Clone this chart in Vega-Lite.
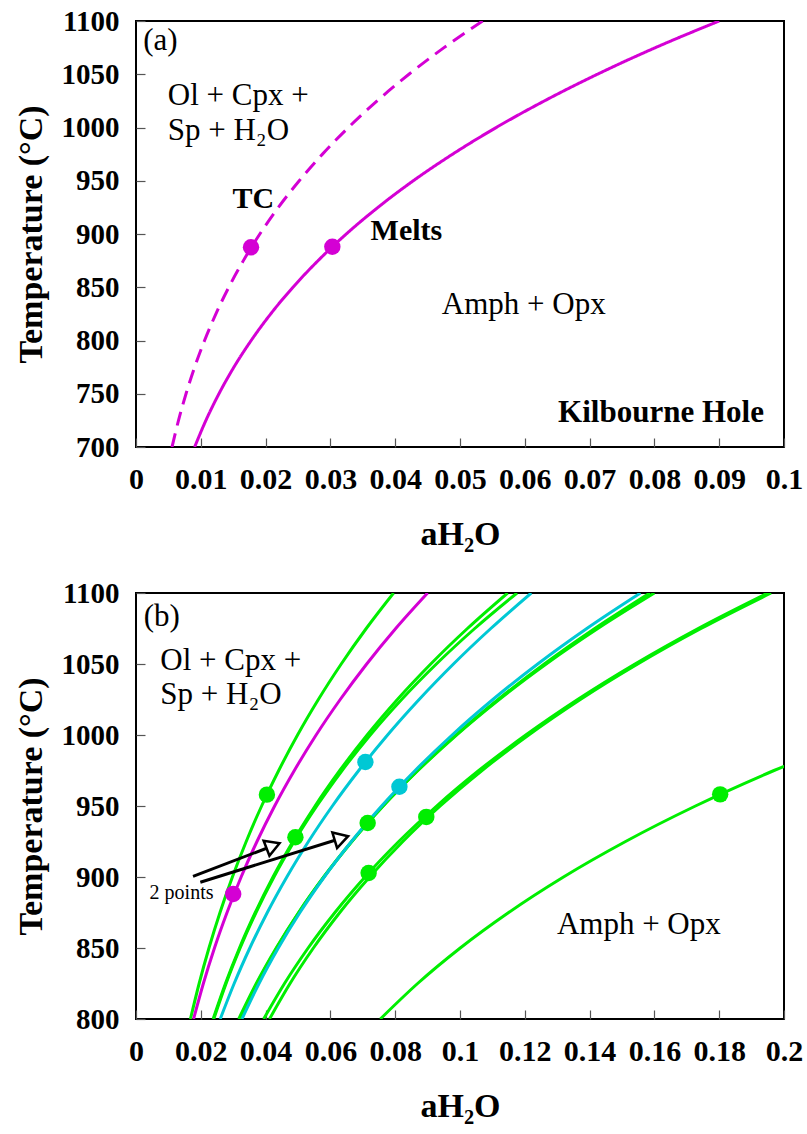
{
  "$schema": "https://vega.github.io/schema/vega-lite/v6.json",
  "background": "white",
  "padding": {"left": 13, "top": 6, "right": 5, "bottom": 5},
  "spacing": 26,
  "config": {
    "font": "Liberation Serif",
    "view": {"stroke": "#000000", "strokeWidth": 2},
    "axis": {
      "domain": false, "grid": false,
      "tickSize": -9, "tickColor": "#555555", "tickWidth": 1.2,
      "labelFont": "Liberation Serif", "labelFontWeight": "bold", "labelFontSize": 29, "labelColor": "#000000",
      "titleFont": "Liberation Serif", "titleFontWeight": "bold", "titleFontSize": 34, "titleColor": "#000000",
      "labelFlush": false, "labelOverlap": false
    },
    "axisX": {"labelPadding": 26, "titlePadding": 23, "labelFontSize": 30},
    "axisY": {"labelPadding": 26, "titlePadding": 13}
  },
  "resolve": {"scale": {"x": "independent", "y": "independent", "color": "independent", "strokeDash": "independent"}},
  "datasets": {
    "a_curves": [
      {"model": "TC", "aH2O": 0.00556, "T": 700},
      {"model": "TC", "aH2O": 0.00656, "T": 725},
      {"model": "TC", "aH2O": 0.00772, "T": 750},
      {"model": "TC", "aH2O": 0.00905, "T": 775},
      {"model": "TC", "aH2O": 0.01058, "T": 800},
      {"model": "TC", "aH2O": 0.01233, "T": 825},
      {"model": "TC", "aH2O": 0.01432, "T": 850},
      {"model": "TC", "aH2O": 0.01657, "T": 875},
      {"model": "TC", "aH2O": 0.01911, "T": 900},
      {"model": "TC", "aH2O": 0.02197, "T": 925},
      {"model": "TC", "aH2O": 0.02519, "T": 950},
      {"model": "TC", "aH2O": 0.02878, "T": 975},
      {"model": "TC", "aH2O": 0.03277, "T": 1000},
      {"model": "TC", "aH2O": 0.03721, "T": 1025},
      {"model": "TC", "aH2O": 0.04212, "T": 1050},
      {"model": "TC", "aH2O": 0.04753, "T": 1075},
      {"model": "TC", "aH2O": 0.0535, "T": 1100},
      {"model": "Melts", "aH2O": 0.00905, "T": 700},
      {"model": "Melts", "aH2O": 0.01079, "T": 725},
      {"model": "Melts", "aH2O": 0.0128, "T": 750},
      {"model": "Melts", "aH2O": 0.01511, "T": 775},
      {"model": "Melts", "aH2O": 0.01777, "T": 800},
      {"model": "Melts", "aH2O": 0.02079, "T": 825},
      {"model": "Melts", "aH2O": 0.02422, "T": 850},
      {"model": "Melts", "aH2O": 0.0281, "T": 875},
      {"model": "Melts", "aH2O": 0.03245, "T": 900},
      {"model": "Melts", "aH2O": 0.03734, "T": 925},
      {"model": "Melts", "aH2O": 0.04279, "T": 950},
      {"model": "Melts", "aH2O": 0.04887, "T": 975},
      {"model": "Melts", "aH2O": 0.05559, "T": 1000},
      {"model": "Melts", "aH2O": 0.06303, "T": 1025},
      {"model": "Melts", "aH2O": 0.0712, "T": 1050},
      {"model": "Melts", "aH2O": 0.08016, "T": 1075},
      {"model": "Melts", "aH2O": 0.09, "T": 1100}
    ],
    "a_points": [
      {"model": "TC", "aH2O": 0.01775, "T": 887.5},
      {"model": "Melts", "aH2O": 0.0303, "T": 888}
    ],
    "a_labels_plain": [
      {"label": "(a)", "aH2O": 0.0011, "T": 1073},
      {"label": "Ol + Cpx +", "aH2O": 0.0049, "T": 1021},
      {"label": "Sp + H₂O", "aH2O": 0.0049, "T": 988},
      {"label": "Amph + Opx", "aH2O": 0.0472, "T": 825}
    ],
    "a_labels_bold": [
      {"label": "TC", "aH2O": 0.0149, "T": 924},
      {"label": "Melts", "aH2O": 0.0362, "T": 894.5}
    ],
    "a_label_site": [
      {"label": "Kilbourne Hole", "aH2O": 0.0969, "T": 723.5}
    ],
    "b_curves": [
      {"curve": "A", "set": "Set 1", "aH2O": 0.0168, "T": 800},
      {"curve": "A", "set": "Set 1", "aH2O": 0.01949, "T": 825},
      {"curve": "A", "set": "Set 1", "aH2O": 0.02252, "T": 850},
      {"curve": "A", "set": "Set 1", "aH2O": 0.02593, "T": 875},
      {"curve": "A", "set": "Set 1", "aH2O": 0.02975, "T": 900},
      {"curve": "A", "set": "Set 1", "aH2O": 0.03402, "T": 925},
      {"curve": "A", "set": "Set 1", "aH2O": 0.03877, "T": 950},
      {"curve": "A", "set": "Set 1", "aH2O": 0.04405, "T": 975},
      {"curve": "A", "set": "Set 1", "aH2O": 0.04986, "T": 1000},
      {"curve": "A", "set": "Set 1", "aH2O": 0.05628, "T": 1025},
      {"curve": "A", "set": "Set 1", "aH2O": 0.06334, "T": 1050},
      {"curve": "A", "set": "Set 1", "aH2O": 0.07106, "T": 1075},
      {"curve": "A", "set": "Set 1", "aH2O": 0.0795, "T": 1100},
      {"curve": "B1", "set": "Set 1", "aH2O": 0.0238, "T": 800},
      {"curve": "B1", "set": "Set 1", "aH2O": 0.02761, "T": 825},
      {"curve": "B1", "set": "Set 1", "aH2O": 0.03193, "T": 850},
      {"curve": "B1", "set": "Set 1", "aH2O": 0.03681, "T": 875},
      {"curve": "B1", "set": "Set 1", "aH2O": 0.04228, "T": 900},
      {"curve": "B1", "set": "Set 1", "aH2O": 0.04842, "T": 925},
      {"curve": "B1", "set": "Set 1", "aH2O": 0.05527, "T": 950},
      {"curve": "B1", "set": "Set 1", "aH2O": 0.06289, "T": 975},
      {"curve": "B1", "set": "Set 1", "aH2O": 0.07134, "T": 1000},
      {"curve": "B1", "set": "Set 1", "aH2O": 0.08067, "T": 1025},
      {"curve": "B1", "set": "Set 1", "aH2O": 0.09097, "T": 1050},
      {"curve": "B1", "set": "Set 1", "aH2O": 0.10229, "T": 1075},
      {"curve": "B1", "set": "Set 1", "aH2O": 0.1147, "T": 1100},
      {"curve": "B2", "set": "Set 1", "aH2O": 0.024, "T": 800},
      {"curve": "B2", "set": "Set 1", "aH2O": 0.02781, "T": 825},
      {"curve": "B2", "set": "Set 1", "aH2O": 0.03214, "T": 850},
      {"curve": "B2", "set": "Set 1", "aH2O": 0.03704, "T": 875},
      {"curve": "B2", "set": "Set 1", "aH2O": 0.04257, "T": 900},
      {"curve": "B2", "set": "Set 1", "aH2O": 0.0488, "T": 925},
      {"curve": "B2", "set": "Set 1", "aH2O": 0.0558, "T": 950},
      {"curve": "B2", "set": "Set 1", "aH2O": 0.06361, "T": 975},
      {"curve": "B2", "set": "Set 1", "aH2O": 0.07231, "T": 1000},
      {"curve": "B2", "set": "Set 1", "aH2O": 0.08198, "T": 1025},
      {"curve": "B2", "set": "Set 1", "aH2O": 0.09271, "T": 1050},
      {"curve": "B2", "set": "Set 1", "aH2O": 0.10455, "T": 1075},
      {"curve": "B2", "set": "Set 1", "aH2O": 0.1176, "T": 1100},
      {"curve": "D1", "set": "Set 1", "aH2O": 0.0317, "T": 800},
      {"curve": "D1", "set": "Set 1", "aH2O": 0.03712, "T": 825},
      {"curve": "D1", "set": "Set 1", "aH2O": 0.04327, "T": 850},
      {"curve": "D1", "set": "Set 1", "aH2O": 0.05018, "T": 875},
      {"curve": "D1", "set": "Set 1", "aH2O": 0.05794, "T": 900},
      {"curve": "D1", "set": "Set 1", "aH2O": 0.06661, "T": 925},
      {"curve": "D1", "set": "Set 1", "aH2O": 0.07626, "T": 950},
      {"curve": "D1", "set": "Set 1", "aH2O": 0.08696, "T": 975},
      {"curve": "D1", "set": "Set 1", "aH2O": 0.09876, "T": 1000},
      {"curve": "D1", "set": "Set 1", "aH2O": 0.11176, "T": 1025},
      {"curve": "D1", "set": "Set 1", "aH2O": 0.12601, "T": 1050},
      {"curve": "D1", "set": "Set 1", "aH2O": 0.1416, "T": 1075},
      {"curve": "D1", "set": "Set 1", "aH2O": 0.1586, "T": 1100},
      {"curve": "D2", "set": "Set 1", "aH2O": 0.032, "T": 800},
      {"curve": "D2", "set": "Set 1", "aH2O": 0.03734, "T": 825},
      {"curve": "D2", "set": "Set 1", "aH2O": 0.04341, "T": 850},
      {"curve": "D2", "set": "Set 1", "aH2O": 0.05026, "T": 875},
      {"curve": "D2", "set": "Set 1", "aH2O": 0.05797, "T": 900},
      {"curve": "D2", "set": "Set 1", "aH2O": 0.06661, "T": 925},
      {"curve": "D2", "set": "Set 1", "aH2O": 0.07627, "T": 950},
      {"curve": "D2", "set": "Set 1", "aH2O": 0.08702, "T": 975},
      {"curve": "D2", "set": "Set 1", "aH2O": 0.09892, "T": 1000},
      {"curve": "D2", "set": "Set 1", "aH2O": 0.11209, "T": 1025},
      {"curve": "D2", "set": "Set 1", "aH2O": 0.1266, "T": 1050},
      {"curve": "D2", "set": "Set 1", "aH2O": 0.14253, "T": 1075},
      {"curve": "D2", "set": "Set 1", "aH2O": 0.16, "T": 1100},
      {"curve": "E1", "set": "Set 1", "aH2O": 0.0394, "T": 800},
      {"curve": "E1", "set": "Set 1", "aH2O": 0.04583, "T": 825},
      {"curve": "E1", "set": "Set 1", "aH2O": 0.05313, "T": 850},
      {"curve": "E1", "set": "Set 1", "aH2O": 0.0614, "T": 875},
      {"curve": "E1", "set": "Set 1", "aH2O": 0.07068, "T": 900},
      {"curve": "E1", "set": "Set 1", "aH2O": 0.0811, "T": 925},
      {"curve": "E1", "set": "Set 1", "aH2O": 0.0928, "T": 950},
      {"curve": "E1", "set": "Set 1", "aH2O": 0.1058, "T": 975},
      {"curve": "E1", "set": "Set 1", "aH2O": 0.1203, "T": 1000},
      {"curve": "E1", "set": "Set 1", "aH2O": 0.1363, "T": 1025},
      {"curve": "E1", "set": "Set 1", "aH2O": 0.154, "T": 1050},
      {"curve": "E1", "set": "Set 1", "aH2O": 0.1735, "T": 1075},
      {"curve": "E1", "set": "Set 1", "aH2O": 0.195, "T": 1100},
      {"curve": "E2", "set": "Set 1", "aH2O": 0.0412, "T": 800},
      {"curve": "E2", "set": "Set 1", "aH2O": 0.04754, "T": 825},
      {"curve": "E2", "set": "Set 1", "aH2O": 0.05475, "T": 850},
      {"curve": "E2", "set": "Set 1", "aH2O": 0.0629, "T": 875},
      {"curve": "E2", "set": "Set 1", "aH2O": 0.0721, "T": 900},
      {"curve": "E2", "set": "Set 1", "aH2O": 0.08236, "T": 925},
      {"curve": "E2", "set": "Set 1", "aH2O": 0.09389, "T": 950},
      {"curve": "E2", "set": "Set 1", "aH2O": 0.1068, "T": 975},
      {"curve": "E2", "set": "Set 1", "aH2O": 0.1212, "T": 1000},
      {"curve": "E2", "set": "Set 1", "aH2O": 0.13714, "T": 1025},
      {"curve": "E2", "set": "Set 1", "aH2O": 0.15485, "T": 1050},
      {"curve": "E2", "set": "Set 1", "aH2O": 0.17439, "T": 1075},
      {"curve": "E2", "set": "Set 1", "aH2O": 0.196, "T": 1100},
      {"curve": "F", "set": "Set 1", "aH2O": 0.0754, "T": 800},
      {"curve": "F", "set": "Set 1", "aH2O": 0.08692, "T": 825},
      {"curve": "F", "set": "Set 1", "aH2O": 0.10007, "T": 850},
      {"curve": "F", "set": "Set 1", "aH2O": 0.11502, "T": 875},
      {"curve": "F", "set": "Set 1", "aH2O": 0.13194, "T": 900},
      {"curve": "F", "set": "Set 1", "aH2O": 0.1511, "T": 925},
      {"curve": "F", "set": "Set 1", "aH2O": 0.17267, "T": 950},
      {"curve": "F", "set": "Set 1", "aH2O": 0.19691, "T": 975},
      {"curve": "F", "set": "Set 1", "aH2O": 0.22403, "T": 1000},
      {"curve": "C1", "set": "Set 2", "aH2O": 0.026, "T": 800},
      {"curve": "C1", "set": "Set 2", "aH2O": 0.0303, "T": 825},
      {"curve": "C1", "set": "Set 2", "aH2O": 0.03513, "T": 850},
      {"curve": "C1", "set": "Set 2", "aH2O": 0.04053, "T": 875},
      {"curve": "C1", "set": "Set 2", "aH2O": 0.04655, "T": 900},
      {"curve": "C1", "set": "Set 2", "aH2O": 0.05323, "T": 925},
      {"curve": "C1", "set": "Set 2", "aH2O": 0.06061, "T": 950},
      {"curve": "C1", "set": "Set 2", "aH2O": 0.06874, "T": 975},
      {"curve": "C1", "set": "Set 2", "aH2O": 0.07764, "T": 1000},
      {"curve": "C1", "set": "Set 2", "aH2O": 0.08738, "T": 1025},
      {"curve": "C1", "set": "Set 2", "aH2O": 0.09798, "T": 1050},
      {"curve": "C1", "set": "Set 2", "aH2O": 0.10951, "T": 1075},
      {"curve": "C1", "set": "Set 2", "aH2O": 0.122, "T": 1100},
      {"curve": "C2", "set": "Set 2", "aH2O": 0.0327, "T": 800},
      {"curve": "C2", "set": "Set 2", "aH2O": 0.03797, "T": 825},
      {"curve": "C2", "set": "Set 2", "aH2O": 0.04392, "T": 850},
      {"curve": "C2", "set": "Set 2", "aH2O": 0.0506, "T": 875},
      {"curve": "C2", "set": "Set 2", "aH2O": 0.0581, "T": 900},
      {"curve": "C2", "set": "Set 2", "aH2O": 0.06648, "T": 925},
      {"curve": "C2", "set": "Set 2", "aH2O": 0.07581, "T": 950},
      {"curve": "C2", "set": "Set 2", "aH2O": 0.08615, "T": 975},
      {"curve": "C2", "set": "Set 2", "aH2O": 0.09757, "T": 1000},
      {"curve": "C2", "set": "Set 2", "aH2O": 0.11015, "T": 1025},
      {"curve": "C2", "set": "Set 2", "aH2O": 0.12398, "T": 1050},
      {"curve": "C2", "set": "Set 2", "aH2O": 0.13914, "T": 1075},
      {"curve": "C2", "set": "Set 2", "aH2O": 0.1557, "T": 1100},
      {"curve": "M", "set": "Melts", "aH2O": 0.01777, "T": 800},
      {"curve": "M", "set": "Melts", "aH2O": 0.02079, "T": 825},
      {"curve": "M", "set": "Melts", "aH2O": 0.02422, "T": 850},
      {"curve": "M", "set": "Melts", "aH2O": 0.0281, "T": 875},
      {"curve": "M", "set": "Melts", "aH2O": 0.03245, "T": 900},
      {"curve": "M", "set": "Melts", "aH2O": 0.03734, "T": 925},
      {"curve": "M", "set": "Melts", "aH2O": 0.04279, "T": 950},
      {"curve": "M", "set": "Melts", "aH2O": 0.04887, "T": 975},
      {"curve": "M", "set": "Melts", "aH2O": 0.05559, "T": 1000},
      {"curve": "M", "set": "Melts", "aH2O": 0.06303, "T": 1025},
      {"curve": "M", "set": "Melts", "aH2O": 0.0712, "T": 1050},
      {"curve": "M", "set": "Melts", "aH2O": 0.08016, "T": 1075},
      {"curve": "M", "set": "Melts", "aH2O": 0.09, "T": 1100}
    ],
    "b_points": [
      {"set": "Set 1", "aH2O": 0.0404, "T": 958},
      {"set": "Set 1", "aH2O": 0.0492, "T": 928},
      {"set": "Set 1", "aH2O": 0.0715, "T": 938},
      {"set": "Set 1", "aH2O": 0.0718, "T": 902.8},
      {"set": "Set 1", "aH2O": 0.0896, "T": 942.3},
      {"set": "Set 1", "aH2O": 0.1803, "T": 958.2},
      {"set": "Set 2", "aH2O": 0.0708, "T": 981},
      {"set": "Set 2", "aH2O": 0.0813, "T": 963.6},
      {"set": "Melts", "aH2O": 0.03, "T": 888}
    ],
    "b_arrows": [
      {"aH2O": 0.0176, "T": 900.5, "aH2O_end": 0.0423, "T_end": 922},
      {"aH2O": 0.01985, "T": 896.3, "aH2O_end": 0.0634, "T_end": 927.3}
    ],
    "b_labels_plain": [
      {"label": "(b)", "aH2O": 0.0024, "T": 1077},
      {"label": "Ol + Cpx +", "aH2O": 0.0075, "T": 1046},
      {"label": "Sp + H₂O", "aH2O": 0.0075, "T": 1022},
      {"label": "Amph + Opx", "aH2O": 0.1299, "T": 860}
    ],
    "b_note": [
      {"label": "2 points", "aH2O": 0.0042, "T": 884.5}
    ]
  },
  "vconcat": [
    {
      "width": 648,
      "height": 426,
      "encoding": {
        "x": {"field": "aH2O", "type": "quantitative",
              "scale": {"domain": [0, 0.1], "nice": false, "zero": false},
              "axis": {"title": "aH₂O", "values": [0, 0.01, 0.02, 0.03, 0.04, 0.05, 0.06, 0.07, 0.08, 0.09, 0.1], "format": "~g"}},
        "y": {"field": "T", "type": "quantitative",
              "scale": {"domain": [700, 1100], "nice": false, "zero": false},
              "axis": {"title": "Temperature (°C)", "values": [700, 750, 800, 850, 900, 950, 1000, 1050, 1100], "format": "d"}}
      },
      "layer": [
        {
          "data": {"name": "a_curves"},
          "mark": {"type": "line", "strokeWidth": 3, "interpolate": "monotone", "clip": true, "color": "#d400d4"},
          "encoding": {
            "detail": {"field": "model"},
            "strokeDash": {"field": "model", "type": "nominal", "scale": {"domain": ["Melts", "TC"], "range": [[1, 0], [14, 8]]}, "legend": null}
          }
        },
        {
          "data": {"name": "a_points"},
          "mark": {"type": "point", "filled": true, "size": 270, "opacity": 1, "color": "#d400d4"}
        },
        {
          "data": {"name": "a_labels_plain"},
          "mark": {"type": "text", "align": "left", "baseline": "alphabetic", "font": "Liberation Serif", "fontSize": 31, "color": "#000000"},
          "encoding": {"text": {"field": "label"}}
        },
        {
          "data": {"name": "a_labels_bold"},
          "mark": {"type": "text", "align": "left", "baseline": "alphabetic", "font": "Liberation Serif", "fontWeight": "bold", "fontSize": 30, "color": "#000000"},
          "encoding": {"text": {"field": "label"}}
        },
        {
          "data": {"name": "a_label_site"},
          "mark": {"type": "text", "align": "right", "baseline": "alphabetic", "font": "Liberation Serif", "fontWeight": "bold", "fontSize": 31, "color": "#000000"},
          "encoding": {"text": {"field": "label"}}
        }
      ]
    },
    {
      "width": 648,
      "height": 426,
      "encoding": {
        "x": {"field": "aH2O", "type": "quantitative",
              "scale": {"domain": [0, 0.2], "nice": false, "zero": false},
              "axis": {"title": "aH₂O", "values": [0, 0.02, 0.04, 0.06, 0.08, 0.1, 0.12, 0.14, 0.16, 0.18, 0.2], "format": "~g"}},
        "y": {"field": "T", "type": "quantitative",
              "scale": {"domain": [800, 1100], "nice": false, "zero": false},
              "axis": {"title": "Temperature (°C)", "values": [800, 850, 900, 950, 1000, 1050, 1100], "format": "d"}}
      },
      "layer": [
        {
          "data": {"name": "b_curves"},
          "mark": {"type": "line", "strokeWidth": 3, "interpolate": "monotone", "clip": true},
          "encoding": {
            "detail": {"field": "curve"},
            "color": {"field": "set", "type": "nominal", "scale": {"domain": ["Set 1", "Set 2", "Melts"], "range": ["#00ee00", "#00c8d4", "#d400d4"]}, "legend": null}
          }
        },
        {
          "data": {"name": "b_points"},
          "mark": {"type": "point", "filled": true, "size": 270, "opacity": 1},
          "encoding": {
            "color": {"field": "set", "type": "nominal", "scale": {"domain": ["Set 1", "Set 2", "Melts"], "range": ["#00ee00", "#00c8d4", "#d400d4"]}, "legend": null}
          }
        },
        {
          "data": {"name": "b_arrows"},
          "mark": {"type": "rule", "strokeWidth": 3, "color": "#000000"},
          "encoding": {
            "x2": {"field": "aH2O_end"},
            "y2": {"field": "T_end"}
          }
        },
        {
          "data": {"values": [{"aH2O": 0.0423, "T": 922}]},
          "mark": {"type": "point", "shape": "triangle-right", "size": 260, "angle": 339, "filled": true, "fill": "#ffffff", "stroke": "#000000", "strokeWidth": 2.5, "opacity": 1}
        },
        {
          "data": {"values": [{"aH2O": 0.0634, "T": 927.3}]},
          "mark": {"type": "point", "shape": "triangle-right", "size": 260, "angle": 343, "filled": true, "fill": "#ffffff", "stroke": "#000000", "strokeWidth": 2.5, "opacity": 1}
        },
        {
          "data": {"name": "b_labels_plain"},
          "mark": {"type": "text", "align": "left", "baseline": "alphabetic", "font": "Liberation Serif", "fontSize": 31, "color": "#000000"},
          "encoding": {"text": {"field": "label"}}
        },
        {
          "data": {"name": "b_note"},
          "mark": {"type": "text", "align": "left", "baseline": "alphabetic", "font": "Liberation Serif", "fontSize": 20, "color": "#000000"},
          "encoding": {"text": {"field": "label"}}
        }
      ]
    }
  ]
}
